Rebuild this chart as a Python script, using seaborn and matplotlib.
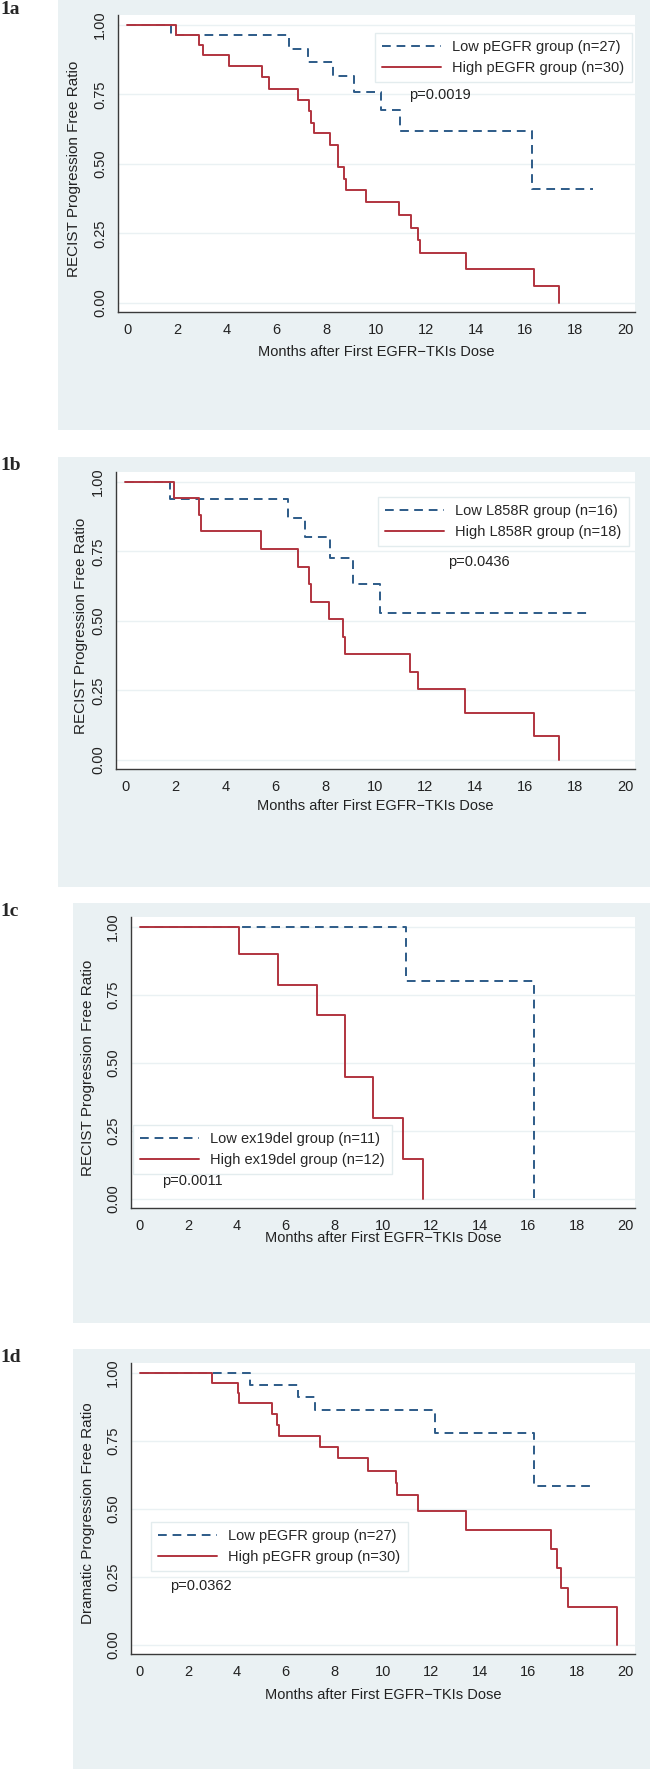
import matplotlib
matplotlib.use("Agg")
import matplotlib.pyplot as plt
import seaborn as sns
from matplotlib.patches import Rectangle

sns.set_theme(style="white")
plt.rcParams['font.family'] = ['Liberation Sans', 'DejaVu Sans']

# Kaplan-Meier step values (months, ratio)
a_low_t = [0, 1.75, 6.5, 7.25, 8.25, 9.1, 10.2, 10.95, 16.25, 18.7]
a_low_s = [1.0, 0.963, 0.911, 0.867, 0.815, 0.758, 0.695, 0.617, 0.410, 0.410]
a_high_t = [0, 1.95, 2.9, 3.05, 4.1, 5.4, 5.7, 6.85, 7.3, 7.4, 7.5, 8.15, 8.45,
            8.7, 8.8, 9.6, 10.9, 11.4, 11.7, 11.75, 13.6, 16.35, 17.35]
a_high_s = [1.0, 0.964, 0.928, 0.89, 0.853, 0.812, 0.770, 0.731, 0.689, 0.648, 0.609,
            0.567, 0.487, 0.445, 0.406, 0.361, 0.316, 0.270, 0.226, 0.178, 0.121, 0.059, 0.0]

b_low_t = [0, 1.8, 6.5, 7.2, 8.2, 9.1, 10.2, 18.65]
b_low_s = [1.0, 0.937, 0.870, 0.803, 0.724, 0.632, 0.527, 0.527]
b_high_t = [0, 1.95, 2.95, 3.05, 5.45, 6.9, 7.35, 7.45, 8.15, 8.7, 8.8, 11.4, 11.7,
            13.6, 16.35, 17.35]
b_high_s = [1.0, 0.940, 0.882, 0.823, 0.759, 0.695, 0.633, 0.569, 0.505, 0.442, 0.380,
            0.317, 0.253, 0.167, 0.085, 0.0]

c_low_t = [0, 10.95, 16.25]
c_low_s = [1.0, 0.80, 0.0]
c_high_t = [0, 4.1, 5.7, 7.3, 8.45, 9.6, 10.85, 11.65]
c_high_s = [1.0, 0.899, 0.785, 0.674, 0.448, 0.298, 0.148, 0.0]

d_low_t = [0, 4.55, 6.5, 7.2, 12.15, 16.25, 18.6]
d_low_s = [1.0, 0.955, 0.909, 0.864, 0.777, 0.584, 0.584]
d_high_t = [0, 2.95, 4.05, 4.1, 5.45, 5.65, 5.72, 7.4, 8.15, 9.4, 10.55, 10.6, 11.45,
            13.45, 16.95, 17.2, 17.35, 17.65, 19.65]
d_high_s = [1.0, 0.963, 0.926, 0.890, 0.848, 0.807, 0.768, 0.728, 0.687, 0.640, 0.595,
            0.550, 0.493, 0.423, 0.352, 0.282, 0.211, 0.141, 0.0]

x_ticks = list(range(0, 21, 2))
y_ticks = [0, 0.25, 0.5, 0.75, 1.0]
y_tick_labels = ["0.00", "0.25", "0.50", "0.75", "1.00"]
x_label = "Months after First EGFR\u2212TKIs Dose"

panels = [
    dict(tag="1a", low=(a_low_t, a_low_s), high=(a_high_t, a_high_s),
         names=("Low pEGFR group (n=27)", "High pEGFR group (n=30)"),
         p="p=0.0019", ylab="RECIST Progression Free Ratio"),
    dict(tag="1b", low=(b_low_t, b_low_s), high=(b_high_t, b_high_s),
         names=("Low L858R group (n=16)", "High L858R group (n=18)"),
         p="p=0.0436", ylab="RECIST Progression Free Ratio"),
    dict(tag="1c", low=(c_low_t, c_low_s), high=(c_high_t, c_high_s),
         names=("Low ex19del group (n=11)", "High ex19del group (n=12)"),
         p="p=0.0011", ylab="RECIST Progression Free Ratio"),
    dict(tag="1d", low=(d_low_t, d_low_s), high=(d_high_t, d_high_s),
         names=("Low pEGFR group (n=27)", "High pEGFR group (n=30)"),
         p="p=0.0362", ylab="Dramatic Progression Free Ratio"),
]

# layout in pixels (figure 650 x 1780)
W, H = 650, 1780
layout = [
    # outer box, axes box (l, t, r, b), tag y, legend top-left, p pos, ylabel x, xlabel y
    dict(box=(58, 0, 650, 430), ax=(118, 15, 635, 312), tag_y=10,
         leg=(375, 33), pp=(409, 95), ylx=74, xly=352),
    dict(box=(58, 457, 650, 887), ax=(116, 472, 635, 769), tag_y=465,
         leg=(378, 497), pp=(448, 562), ylx=81, xly=806),
    dict(box=(73, 903, 650, 1323), ax=(131, 917, 635, 1208), tag_y=912,
         leg=(133, 1125), pp=(162, 1181), ylx=88, xly=1238),
    dict(box=(73, 1349, 650, 1769), ax=(131, 1363, 635, 1654), tag_y=1357,
         leg=(151, 1522), pp=(170, 1586), ylx=88, xly=1695),
]

blue = "#2d5b88"
red = "#b1343f"
bg = "#eaf1f3"
axis_col = "#3a3a3a"

fig = plt.figure(figsize=(W / 100, H / 100), dpi=100)
fig.patch.set_facecolor("white")

for pan, lay in zip(panels, layout):
    x0, y0, x1, y1 = lay["box"]
    fig.patches.append(Rectangle((x0 / W, 1 - y1 / H), (x1 - x0) / W, (y1 - y0) / H,
                                 transform=fig.transFigure, facecolor=bg,
                                 edgecolor="none", zorder=-10))
    fig.text(0, 1 - lay["tag_y"] / H, pan["tag"], family=["Liberation Serif", "DejaVu Serif"],
             fontweight="bold", fontsize=14, va="center", ha="left")

    l, t, r, b = lay["ax"]
    ax = fig.add_axes([l / W, 1 - b / H, (r - l) / W, (b - t) / H])
    ax.set_zorder(1)
    ax.set_facecolor("white")
    for yv in y_ticks:
        ax.axhline(yv, color=bg, lw=1.0, zorder=0)

    sns.lineplot(x=pan["low"][0], y=pan["low"][1], ax=ax, color=blue, lw=1.4,
                 drawstyle="steps-post", estimator=None, sort=False,
                 linestyle=(0, (4.5, 3)), label=pan["names"][0])
    sns.lineplot(x=pan["high"][0], y=pan["high"][1], ax=ax, color=red, lw=1.4,
                 drawstyle="steps-post", estimator=None, sort=False,
                 label=pan["names"][1])

    ax.set_xlim(-0.37, 20.4)
    ax.set_ylim(-0.033, 1.035)
    ax.set_xticks(x_ticks)
    ax.set_yticks(y_ticks)
    ax.set_yticklabels(y_tick_labels, rotation=90, va="center")
    ax.tick_params(axis="both", direction="out", length=5, width=1, color=axis_col,
                   labelsize=10.5, labelcolor="#222222", pad=3)
    for side in ["top", "right"]:
        ax.spines[side].set_visible(False)
    for side in ["left", "bottom"]:
        ax.spines[side].set_color(axis_col)
        ax.spines[side].set_linewidth(1.0)

    ax.set_xlabel(x_label, fontsize=10.5, color="#222222")
    ax.set_ylabel(pan["ylab"], fontsize=11, color="#222222")
    ax.xaxis.set_label_coords(((l + r) / 2) / W, 1 - lay["xly"] / H, transform=fig.transFigure)
    ax.xaxis.label.set_va("center")
    ax.yaxis.set_label_coords(lay["ylx"] / W, 1 - ((t + b) / 2 + 5) / H, transform=fig.transFigure)
    ax.yaxis.label.set_va("center")

    lx, ly = lay["leg"]
    leg = ax.legend(loc="upper left", bbox_to_anchor=(lx / W, 1 - ly / H),
                    bbox_transform=fig.transFigure, borderaxespad=0, frameon=True,
                    fancybox=False, edgecolor="#e3ecee", facecolor="white",
                    framealpha=1, fontsize=10.5, handlelength=4.0, handletextpad=0.8,
                    labelspacing=0.45, borderpad=0.5)
    leg.get_frame().set_linewidth(1.0)

    px, py = lay["pp"]
    fig.text(px / W, 1 - py / H, pan["p"], fontsize=10.5, color="#222222",
             ha="left", va="center", zorder=5)

fig.savefig("out.png", dpi=100)
